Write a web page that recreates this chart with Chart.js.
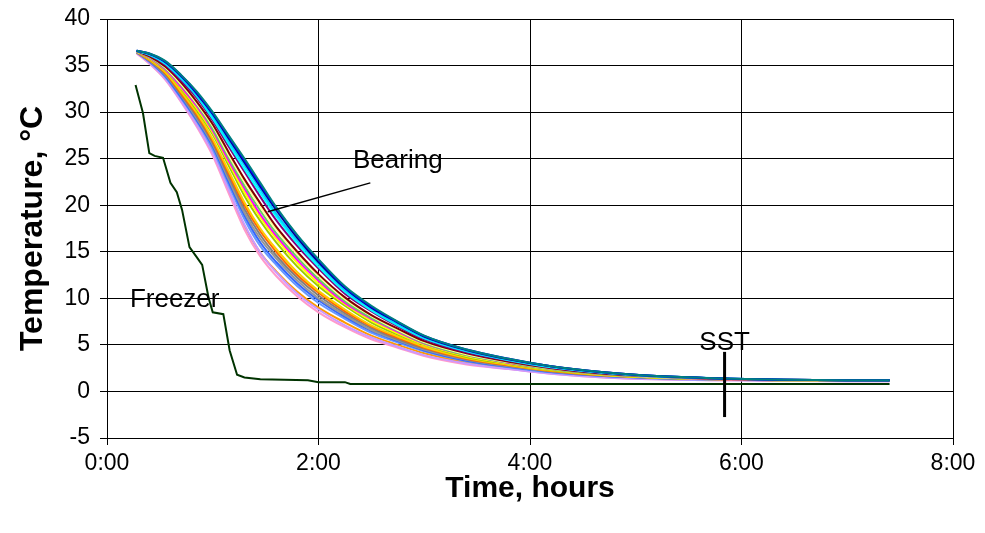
<!DOCTYPE html>
<html>
<head>
<meta charset="utf-8">
<script src="https://cdn.jsdelivr.net/npm/chart.js@4.4.0/dist/chart.umd.min.js"></script>
<style>
  html, body { margin: 0; padding: 0; background: #fff; }
  #wrap { width: 985px; height: 533px; }
</style>
</head>
<body>
<div id="wrap"><canvas id="cool" width="985" height="533"></canvas></div>
<script>
(function () {
  "use strict";

  // time in hours, shared by all bearing sensors
  const bearingTime = [0.28, 0.4, 0.55, 0.7, 0.85, 1.0, 1.15, 1.3, 1.45, 1.6, 1.8, 2.0, 2.25, 2.5, 2.75, 3.0, 3.4, 3.8, 4.2, 4.7, 5.2, 5.8, 6.4, 7.0, 7.4];

  // bearing temperatures, fastest to slowest
  const bearing01 = [36.4, 35.3, 33.6, 31.2, 28.6, 25.6, 21.6, 17.8, 14.9, 12.9, 10.7, 9.0, 7.4, 6.0, 5.0, 4.1, 3.1, 2.5, 2.0, 1.6, 1.4, 1.25, 1.2, 1.15, 1.15];
  const bearing02 = [36.3, 35.2, 33.5, 31.1, 28.4, 25.3, 21.3, 17.4, 14.5, 12.4, 10.2, 8.5, 6.9, 5.6, 4.7, 3.8, 2.9, 2.4, 1.9, 1.5, 1.3, 1.2, 1.15, 1.1, 1.1];
  const bearing03 = [36.4, 35.3, 33.6, 31.2, 28.6, 25.6, 21.7, 17.9, 14.9, 12.8, 10.5, 8.8, 7.1, 5.8, 4.8, 3.9, 3.0, 2.4, 1.9, 1.5, 1.3, 1.2, 1.15, 1.1, 1.1];
  const bearing04 = [36.4, 35.4, 33.8, 31.5, 29.0, 26.0, 22.2, 18.5, 15.6, 13.6, 11.3, 9.5, 7.8, 6.3, 5.25, 4.3, 3.25, 2.6, 2.05, 1.65, 1.4, 1.25, 1.2, 1.15, 1.15];
  const bearing05 = [36.4, 35.45, 33.9, 31.6, 29.1, 26.3, 22.5, 18.9, 16.0, 13.9, 11.6, 9.8, 8.0, 6.5, 5.4, 4.4, 3.3, 2.65, 2.1, 1.65, 1.45, 1.3, 1.2, 1.15, 1.15];
  const bearing06 = [36.4, 35.5, 34.0, 31.8, 29.3, 26.5, 22.8, 19.2, 16.4, 14.3, 11.9, 10.0, 8.2, 6.6, 5.5, 4.5, 3.4, 2.7, 2.15, 1.7, 1.45, 1.3, 1.2, 1.15, 1.15];
  const bearing07 = [36.45, 35.55, 34.1, 31.9, 29.5, 26.7, 23.1, 19.6, 16.8, 14.6, 12.2, 10.3, 8.4, 6.8, 5.6, 4.6, 3.45, 2.75, 2.2, 1.7, 1.45, 1.3, 1.2, 1.15, 1.15];
  const bearing08 = [36.5, 35.6, 34.2, 32.0, 29.7, 26.9, 23.4, 20.0, 17.2, 15.0, 12.5, 10.6, 8.6, 7.0, 5.75, 4.7, 3.5, 2.8, 2.2, 1.75, 1.5, 1.3, 1.2, 1.15, 1.15];
  const bearing09 = [36.5, 35.65, 34.3, 32.2, 29.9, 27.1, 23.7, 20.3, 17.5, 15.3, 12.8, 10.8, 8.8, 7.1, 5.9, 4.8, 3.6, 2.85, 2.25, 1.75, 1.5, 1.3, 1.2, 1.2, 1.2];
  const bearing10 = [36.5, 35.75, 34.5, 32.5, 30.2, 27.6, 24.3, 21.0, 18.3, 16.0, 13.4, 11.3, 9.2, 7.4, 6.1, 5.0, 3.7, 2.95, 2.3, 1.8, 1.5, 1.3, 1.2, 1.2, 1.2];
  const bearing11 = [36.5, 35.8, 34.55, 32.6, 30.4, 27.8, 24.6, 21.4, 18.7, 16.4, 13.8, 11.6, 9.4, 7.6, 6.25, 5.05, 3.8, 3.0, 2.35, 1.8, 1.5, 1.3, 1.2, 1.2, 1.2];
  const bearing12 = [36.5, 35.85, 34.6, 32.7, 30.6, 28.0, 24.8, 21.8, 19.0, 16.7, 14.1, 11.9, 9.5, 7.8, 6.4, 5.15, 3.9, 3.05, 2.4, 1.85, 1.55, 1.3, 1.2, 1.2, 1.2];
  const bearing13 = [36.5, 35.9, 34.7, 32.9, 30.8, 28.2, 25.1, 22.1, 19.4, 17.0, 14.4, 12.1, 9.7, 7.9, 6.5, 5.2, 3.9, 3.1, 2.4, 1.85, 1.55, 1.35, 1.2, 1.2, 1.2];
  const bearing14 = [36.5, 35.95, 34.8, 33.0, 30.9, 28.5, 25.4, 22.5, 19.8, 17.4, 14.7, 12.4, 9.9, 8.1, 6.6, 5.3, 4.0, 3.15, 2.45, 1.9, 1.55, 1.35, 1.2, 1.2, 1.2];
  const bearing15 = [36.55, 36.0, 34.9, 33.2, 31.1, 28.7, 25.7, 22.8, 20.2, 17.7, 15.0, 12.6, 10.1, 8.2, 6.75, 5.4, 4.1, 3.2, 2.5, 1.9, 1.6, 1.35, 1.25, 1.2, 1.2];
  const bearing16 = [36.55, 36.1, 35.1, 33.4, 31.5, 29.1, 26.3, 23.6, 20.9, 18.4, 15.6, 13.2, 10.5, 8.6, 7.0, 5.6, 4.2, 3.3, 2.55, 1.95, 1.6, 1.35, 1.25, 1.2, 1.2];
  const bearing17 = [36.55, 36.15, 35.2, 33.6, 31.7, 29.3, 26.6, 23.9, 21.3, 18.8, 15.9, 13.4, 10.7, 8.7, 7.1, 5.7, 4.3, 3.35, 2.6, 2.0, 1.6, 1.4, 1.25, 1.2, 1.2];
  const bearing18 = [36.6, 36.2, 35.3, 33.7, 31.8, 29.6, 26.9, 24.3, 21.7, 19.1, 16.2, 13.7, 10.9, 8.9, 7.25, 5.8, 4.35, 3.4, 2.65, 2.0, 1.65, 1.4, 1.25, 1.2, 1.2];
  const bearing19 = [36.6, 36.25, 35.4, 33.9, 32.0, 29.8, 27.2, 24.6, 22.0, 19.5, 16.5, 13.9, 11.1, 9.0, 7.4, 5.9, 4.45, 3.45, 2.7, 2.05, 1.65, 1.4, 1.25, 1.2, 1.2];
  const bearing20 = [36.6, 36.3, 35.45, 33.95, 32.1, 29.9, 27.4, 24.8, 22.2, 19.7, 16.7, 14.1, 11.2, 9.1, 7.45, 5.95, 4.5, 3.5, 2.7, 2.05, 1.65, 1.4, 1.25, 1.2, 1.2];
  const bearing21 = [36.6, 36.3, 35.5, 34.0, 32.2, 30.0, 27.5, 25.0, 22.4, 19.8, 16.8, 14.2, 11.3, 9.2, 7.5, 6.0, 4.5, 3.5, 2.7, 2.05, 1.65, 1.4, 1.25, 1.2, 1.2];

  // freezer air
  const freezerTime = [0.27, 0.34, 0.4, 0.45, 0.53, 0.6, 0.66, 0.71, 0.78, 0.85, 0.9, 0.96, 1.0, 1.1, 1.16, 1.23, 1.3, 1.45, 1.9, 2.0, 2.25, 2.3, 7.4];
  const freezerTemp = [32.9, 29.9, 25.6, 25.3, 25.1, 22.4, 21.4, 19.5, 15.5, 14.4, 13.6, 10.1, 8.5, 8.3, 4.4, 1.8, 1.5, 1.3, 1.2, 1.0, 1.0, 0.8, 0.8];

  const yTicks = { min: -5, max: 40, step: 5 };
  const xTicks = { min: 0, max: 8, step: 2 };

  const bearingSeries = [bearing01, bearing02, bearing03, bearing04, bearing05, bearing06, bearing07,
    bearing08, bearing09, bearing10, bearing11, bearing12, bearing13, bearing14, bearing15, bearing16,
    bearing17, bearing18, bearing19, bearing20, bearing21];
  const bearingColors = ["#FF9900", "#FF99CC", "#CC99FF", "#6699FF", "#3366FF", "#969696", "#808080",
    "#FF6600", "#FFCC00", "#99CC00", "#FFFF00", "#FF00FF", "#66CC66", "#FFFF99", "#800000", "#800080",
    "#00FFFF", "#00CCFF", "#000080", "#0000FF", "#008080"];

  const FONT = "'Liberation Sans', Arial, sans-serif";
  Chart.defaults.font.family = FONT;
  Chart.defaults.color = "#000";

  function pts(xs, ys) {
    return xs.map((x, i) => ({ x: x, y: ys[i] }));
  }

  function hm(v) {
    const h = Math.floor(v);
    const m = Math.round((v - h) * 60);
    return h + ":" + (m < 10 ? "0" : "") + m;
  }

  // Chart.js paints dataset 0 last, so list slowest first to keep blue/teal on top
  const datasets = [];
  for (let i = bearingSeries.length - 1; i >= 0; i--) {
    datasets.push({
      label: "Bearing " + (i + 1),
      data: pts(bearingTime, bearingSeries[i]),
      borderColor: bearingColors[i],
      borderWidth: 2,
      pointRadius: 0,
      cubicInterpolationMode: "monotone"
    });
  }
  datasets.push({
    label: "Freezer",
    data: pts(freezerTime, freezerTemp),
    borderColor: "#003300",
    borderWidth: 2,
    pointRadius: 0
  });

  const labels = [
    { text: "Bearing", x: 2.75, y: 24.0 },
    { text: "Freezer", x: 0.64, y: 9.1 },
    { text: "SST", x: 5.84, y: 4.45 }
  ];
  const leader = { x1: 2.49, y1: 22.4, x2: 1.52, y2: 19.3 };
  const sstMark = { x: 5.84, y1: 4.25, y2: -2.75 };

  const notesPlugin = {
    id: "notes",
    afterDatasetsDraw(chart) {
      const ctx = chart.ctx;
      const sx = chart.scales.x, sy = chart.scales.y;
      ctx.save();
      ctx.strokeStyle = "#000";
      ctx.lineWidth = 1.5;
      ctx.beginPath();
      ctx.moveTo(sx.getPixelForValue(leader.x1), sy.getPixelForValue(leader.y1));
      ctx.lineTo(sx.getPixelForValue(leader.x2), sy.getPixelForValue(leader.y2));
      ctx.stroke();

      ctx.lineWidth = 3;
      ctx.beginPath();
      ctx.moveTo(sx.getPixelForValue(sstMark.x), sy.getPixelForValue(sstMark.y1));
      ctx.lineTo(sx.getPixelForValue(sstMark.x), sy.getPixelForValue(sstMark.y2));
      ctx.stroke();

      ctx.fillStyle = "#000";
      ctx.font = "26px " + FONT;
      ctx.textAlign = "center";
      ctx.textBaseline = "alphabetic";
      labels.forEach(l => {
        ctx.fillText(l.text, sx.getPixelForValue(l.x), sy.getPixelForValue(l.y));
      });
      ctx.restore();
    }
  };

  new Chart(document.getElementById("cool"), {
    type: "line",
    data: { datasets },
    plugins: [notesPlugin],
    options: {
      responsive: false,
      animation: false,
      devicePixelRatio: 1,
      layout: { padding: { top: 19, right: 32, left: 0, bottom: 0 } },
      plugins: {
        legend: { display: false },
        tooltip: { enabled: false }
      },
      scales: {
        x: {
          type: "linear",
          min: xTicks.min,
          max: xTicks.max,
          afterFit: s => { s.height = 95; },
          ticks: {
            stepSize: xTicks.step,
            callback: v => hm(v),
            font: { size: 23 },
            color: "#000",
            padding: 5,
            maxRotation: 0
          },
          grid: { color: "#000", lineWidth: 1, tickLength: 7 },
          border: { color: "#000", width: 1 },
          title: {
            display: true,
            text: "Time, hours",
            font: { size: 30, weight: "bold" },
            color: "#000",
            padding: { top: 0, bottom: 26 }
          }
        },
        y: {
          min: yTicks.min,
          max: yTicks.max,
          afterFit: s => { s.width = 107; s.paddingTop = 12; s.paddingBottom = 12; },
          ticks: {
            stepSize: yTicks.step,
            font: { size: 23 },
            color: "#000",
            padding: 10
          },
          grid: { color: "#000", lineWidth: 1, tickLength: 7 },
          border: { color: "#000", width: 1 },
          title: {
            display: true,
            text: "Temperature, °C",
            font: { size: 32, weight: "bold" },
            color: "#000",
            padding: { top: 14, bottom: 0 }
          }
        }
      }
    }
  });
})();
</script>
</body>
</html>
